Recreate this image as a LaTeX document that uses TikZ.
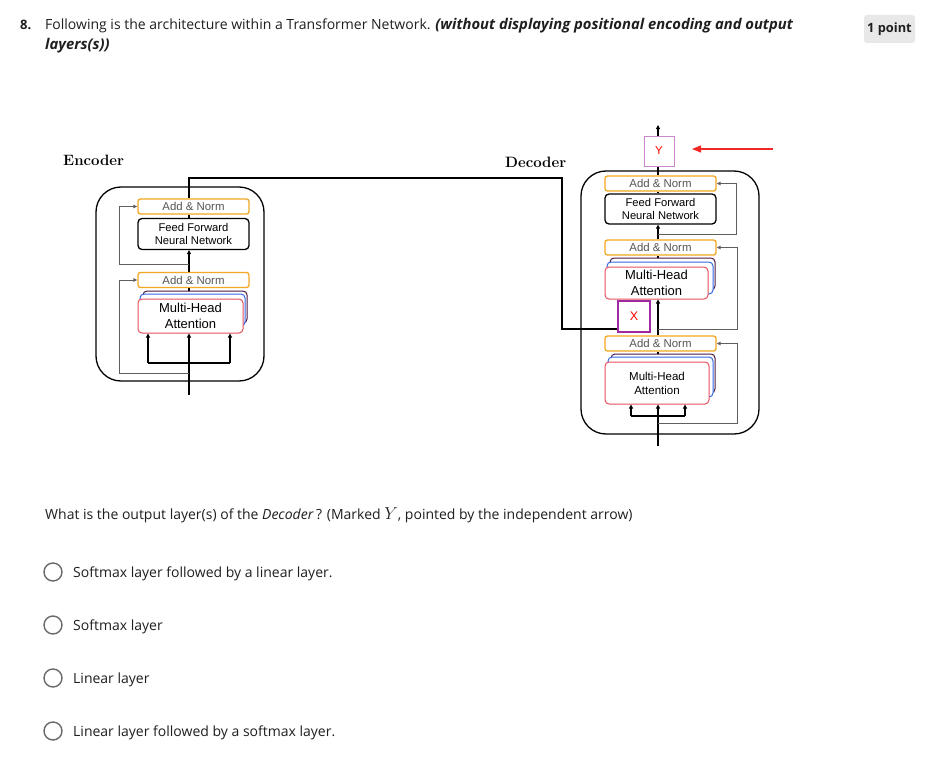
\documentclass[tikz,border=0pt]{standalone}
\usepackage{fontspec}
\newfontfamily\opensans{Open Sans}
\newfontfamily\arial{Liberation Sans}
\usetikzlibrary{arrows.meta,calc}
\definecolor{addcol}{RGB}{245,166,35}
\definecolor{antext}{RGB}{85,85,85}
\definecolor{mhared}{RGB}{232,80,91}
\definecolor{mhablue}{RGB}{51,102,230}
\definecolor{mhapurp}{RGB}{74,25,66}
\definecolor{resgray}{RGB}{95,95,95}
\definecolor{yborder}{RGB}{204,136,204}
\definecolor{xborder}{RGB}{160,40,160}
\definecolor{redarrow}{RGB}{240,40,40}
\definecolor{uitext}{RGB}{31,31,31}
\definecolor{circgray}{RGB}{106,106,106}
\definecolor{ptbox}{RGB}{232,232,232}
\tikzset{
  anbox/.style={draw=addcol, line width=1.3pt, rounded corners=2.5pt, fill=white,
    minimum width=111pt, minimum height=15pt, inner sep=0pt, text=antext,
    font=\arial\fontsize{11.4}{12}\selectfont},
  ffbox/.style={draw=black, line width=1.3pt, rounded corners=4pt, fill=white,
    minimum width=111pt, inner sep=0pt, align=center,
    font=\arial\fontsize{11.2}{13.5}\selectfont},
  mhaback/.style={draw=mhapurp, line width=1pt, rounded corners=4pt, fill=white, inner sep=0pt},
  mhamid/.style={draw=mhablue, line width=1pt, rounded corners=4pt, fill=white, inner sep=0pt},
  mhafront/.style={draw=mhared, line width=1pt, rounded corners=4pt, fill=white, inner sep=0pt, align=center},
  outerbox/.style={draw=black, line width=1.3pt, rounded corners=25pt},
  mainln/.style={draw=black, line width=1.2pt},
  arr/.style={mainln, -{Triangle[length=4pt,width=4pt]}},
  resln/.style={draw=resgray, line width=1pt, -{Triangle[length=4pt,width=3.5pt]}},
  ui/.style={font=\opensans\fontsize{14}{17}\selectfont, text=uitext, inner sep=0pt},
  optcirc/.style={draw=circgray, line width=1.4pt, circle, minimum size=18pt, inner sep=0pt},
  lbl/.style={font=\fontsize{15}{18}\selectfont\bfseries, inner sep=0pt},
}
\begin{document}
\begin{tikzpicture}[x=1pt,y=-1pt]
\useasboundingbox (0,0) rectangle (945,760);
\fill[white] (0,0) rectangle (945,760);

% ---------- header ----------
\node[ui, anchor=base west, font=\opensans\bfseries\fontsize{13}{16}\selectfont] (qnum) at (20,30) {8.};
\node[ui, anchor=base west] (head1) at (45,30) {Following is the architecture within a Transformer Network. {\fontsize{14.8}{17}\selectfont\bfseries\itshape (without displaying positional encoding and output}};
\node[ui, anchor=base west] (head2) at (45,50) {{\fontsize{14.8}{17}\selectfont\bfseries\itshape layers(s))}};
\node[fill=ptbox, rounded corners=3pt, minimum width=51pt, minimum height=28pt, inner sep=0pt,
  font=\opensans\bfseries\fontsize{12.8}{15}\selectfont, text=uitext] (pts) at (889.5,29) {1 point};

% ---------- labels ----------
\node[lbl, anchor=west] (enclbl) at (63,160) {Encoder};
\node[lbl, anchor=west] (declbl) at (505,162) {Decoder};

% ---------- encoder ----------
\node[outerbox, minimum width=168pt, minimum height=194pt] (encbox) at (180,284) {};
\node[anbox] (ean1) at (193.5,206.5) {Add \& Norm};
\node[ffbox, minimum height=31pt] (effn) at (193.5,234) {Feed Forward\\Neural Network};
\node[anbox] (ean2) at (193.5,280) {Add \& Norm};
\node[mhaback, minimum width=104pt, minimum height=32pt] (emhab) at (195,307) {};
\node[mhamid, minimum width=105pt, minimum height=32pt] (emham) at (192.5,310) {};
\node[mhafront, minimum width=105pt, minimum height=34pt, font=\arial\fontsize{13}{16}\selectfont] (emha) at (190.5,316) {Multi-Head\\Attention};

\coordinate (ein) at (189,395);
\coordinate (eleft) at (148,363);
\coordinate (eright) at (230,363);
\coordinate (eres) at (119,0);
% main path
\draw[arr] (ein) -- (ein |- emha.south);
\draw[mainln] (eleft) -- (eright);
\draw[arr] (eleft) -- (eleft |- emha.south);
\draw[arr] (eright) -- (eright |- emha.south);
\draw[mainln] (ein |- emhab.north) -- (ein |- ean2.south);
\draw[arr] (ein |- ean2.north) -- (ein |- effn.south);
\draw[mainln] (ein |- effn.north) -- (ein |- ean1.south);
% residuals
\draw[resln] (189,373) -| (eres |- 0,373) |- (ean2.west);
\draw[resln] (189,264) -| (eres |- 0,264) |- (ean1.west);

% ---------- decoder ----------
\node[outerbox, minimum width=178pt, minimum height=263pt] (decbox) at (670,302.5) {};
\node[draw=yborder, line width=1pt, minimum width=30pt, minimum height=30pt, inner sep=0pt,
  text=red, font=\arial\fontsize{11.5}{13}\selectfont] (ybox) at (659,151) {Y};
\node[anbox] (dan1) at (660.5,183.5) {Add \& Norm};
\node[ffbox, minimum height=30pt] (dffn) at (660.5,209) {Feed Forward\\Neural Network};
\node[anbox] (dan2) at (660.5,247.5) {Add \& Norm};
\node[mhaback, minimum width=105pt, minimum height=32pt] (dmha1b) at (662.5,274) {};
\node[mhamid, minimum width=106pt, minimum height=32pt] (dmha1m) at (660,278) {};
\node[mhafront, minimum width=103pt, minimum height=32pt, font=\arial\fontsize{13}{16}\selectfont] (dmha1) at (656.5,283) {Multi-Head\\Attention};
\node[draw=xborder, line width=1.6pt, fill=white, minimum width=32pt, minimum height=31pt, inner sep=0pt,
  text=red, font=\arial\fontsize{12.5}{14}\selectfont] (xbox) at (634,316.5) {X};
\node[anbox] (dan3) at (660.5,343.5) {Add \& Norm};
\node[mhaback, minimum width=104pt, minimum height=39pt] (dmha2b) at (663,373.5) {};
\node[mhamid, minimum width=105pt, minimum height=40pt] (dmha2m) at (660.5,377) {};
\node[mhafront, minimum width=104pt, minimum height=42pt, font=\arial\fontsize{11.5}{14}\selectfont] (dmha2) at (657,383) {Multi-Head\\Attention};

\coordinate (din) at (658,446);
\coordinate (dleft) at (631,416);
\coordinate (dright) at (685,416);
\coordinate (dres) at (737,0);
\coordinate (dout) at (658,125);
\coordinate (encturn) at (562,178);
\coordinate (encdown) at (562,329);
\draw[arr] (din) -- (din |- dmha2.south);
\draw[mainln] (dleft) -- (dright);
\draw[arr] (dleft) -- (dleft |- dmha2.south);
\draw[arr] (dright) -- (dright |- dmha2.south);
\draw[mainln] (din |- dmha2b.north) -- (din |- dan3.south);
\draw[arr] (din |- dan3.north) -- (din |- dmha1.south);
\draw[mainln] (din |- dmha1b.north) -- (din |- dan2.south);
\draw[arr] (din |- dan2.north) -- (din |- dffn.south);
\draw[mainln] (din |- dffn.north) -- (din |- dan1.south);
\draw[mainln] (din |- dan1.north) -- (din |- ybox.south);
\draw[arr] (din |- ybox.north) -- (dout);
% residuals
\draw[resln] (658,423) -| (dres |- 0,423) |- (dan3.east);
\draw[resln] (658,329) -| (dres |- 0,329) |- (dan2.east);
\draw[resln] (658,234) -| (736,234) |- (dan1.east);

% encoder to decoder
\draw[mainln] (ein |- ean1.north) |- (encturn) -- (encdown) -- (xbox.west |- encdown);

% red pointer
\coordinate (rstart) at (773,149);
\coordinate (rend) at (692,149);
\draw[draw=redarrow, line width=1.4pt, -{Triangle[length=9pt,width=7pt]}] (rstart) -- (rend);

% ---------- question ----------
\node[ui, anchor=base west] (quest) at (45,519) {What is the output layer(s) of the \textit{Decoder}\,? (Marked {\fontsize{17.5}{18}\selectfont$Y$}, pointed by the independent arrow)};

\node[optcirc] (c1) at (53,572) {};
\node[ui, anchor=base west] (o1) at (73,577) {Softmax layer followed by a linear layer.};
\node[optcirc] (c2) at (53,625) {};
\node[ui, anchor=base west] (o2) at (73,630) {Softmax layer};
\node[optcirc] (c3) at (53,678) {};
\node[ui, anchor=base west] (o3) at (73,683) {Linear layer};
\node[optcirc] (c4) at (53,731) {};
\node[ui, anchor=base west] (o4) at (73,736) {Linear layer followed by a softmax layer.};
\end{tikzpicture}
\end{document}
